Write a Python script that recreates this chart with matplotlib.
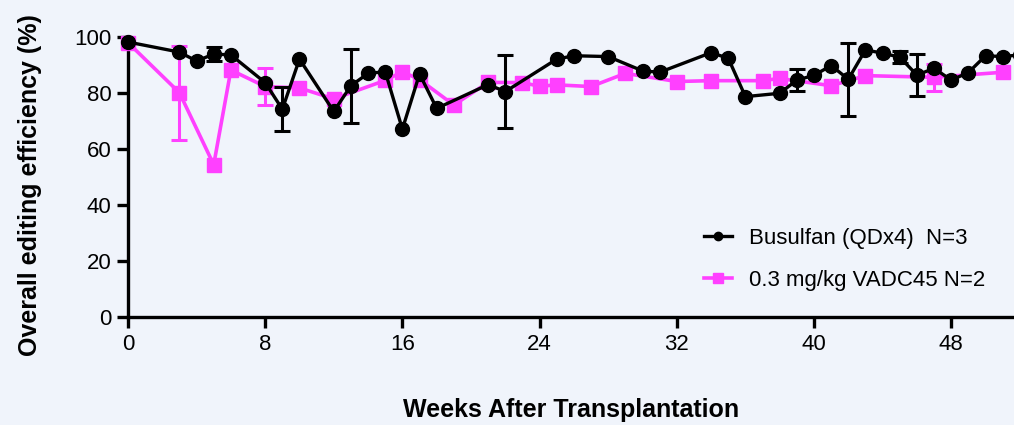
import matplotlib
matplotlib.use("Agg")
import matplotlib.pyplot as plt
import numpy as np

# Busulfan (QDx4) N=3
bus_weeks = [0, 3, 4, 5, 6, 8, 9, 10, 12, 13, 14, 15, 16, 17, 18, 21, 22, 25, 26, 28,
             30, 31, 34, 35, 36, 38, 39, 40, 41, 42, 43, 44, 45, 46, 47, 48, 49, 50, 51, 52]
bus_vals = [98.2, 94.6, 91.4, 93.9, 93.6, 83.7, 74.2, 92.1, 73.4, 82.6, 87.0, 87.6, 67.1, 86.8, 74.5,
            83.0, 80.5, 92.1, 93.3, 93.0, 87.9, 87.4, 94.4, 92.4, 78.7, 79.9, 84.6, 86.3, 89.8, 84.9,
            95.4, 94.2, 92.8, 86.4, 88.8, 84.6, 87.3, 93.3, 93.0, 93.6]
bus_err = [0, 0, 0, 2.5, 0, 0, 7.8, 0, 0, 13.2, 0, 0, 0, 0, 0,
           0, 13.0, 0, 0, 0, 0, 0, 0, 0, 0, 0, 3.9, 0, 0, 13.1,
           0, 0, 2.2, 7.4, 0, 0, 0, 0, 0, 0]

# 0.3 mg/kg VADC45 N=2
vadc_weeks = [0, 3, 5, 6, 8, 10, 12, 15, 16, 17, 19, 21, 23, 24, 25, 27, 29, 32, 34,
              37, 38, 41, 43, 47, 51]
vadc_vals = [98.0, 80.1, 54.4, 88.2, 82.3, 81.8, 77.9, 84.5, 87.6, 84.8, 75.7, 83.8, 83.7, 82.4,
             82.9, 82.3, 87.0, 84.1, 84.4, 84.4, 85.2, 82.6, 86.2, 85.6, 87.4]
vadc_err = [0, 16.8, 0, 0, 6.6, 0, 0, 0, 0, 0, 0, 0, 0, 0,
            0, 0, 0, 0, 0, 0, 0, 0, 0, 4.8, 0]

xticks = [0, 8, 16, 24, 32, 40, 48]
yticks = [0, 20, 40, 60, 80, 100]

bg = "#F0F4FB"
pink = "#FF40FF"

plt.rcParams['font.family'] = ['Liberation Sans', 'DejaVu Sans']

fig = plt.figure(figsize=(10.14, 4.25), dpi=100, facecolor=bg)
ax = fig.add_axes([0.1262, 0.254, 1 - 0.1262, 0.913 - 0.254])
ax.set_facecolor(bg)

ve = np.array(vadc_err, dtype=float)
be = np.array(bus_err, dtype=float)

vidx = ve > 0
ax.errorbar(np.array(vadc_weeks)[vidx], np.array(vadc_vals)[vidx], yerr=ve[vidx], fmt='none',
            ecolor=pink, elinewidth=2.2, capsize=6, capthick=2.2, zorder=2, clip_on=False)
ax.plot(vadc_weeks, vadc_vals, color=pink, lw=2.6, marker='s', ms=9.5,
        label='0.3 mg/kg VADC45 N=2', zorder=3, clip_on=False)

bidx = be > 0
ax.errorbar(np.array(bus_weeks)[bidx], np.array(bus_vals)[bidx], yerr=be[bidx], fmt='none',
            ecolor='black', elinewidth=2.2, capsize=6, capthick=2.2, zorder=4, clip_on=False)
ax.plot(bus_weeks, bus_vals, color='black', lw=2.4, marker='o', ms=10,
        label='Busulfan (QDx4)  N=3', zorder=5, clip_on=False)

ax.set_xlim(0, 51.66)
ax.set_ylim(0, 100)
ax.set_xticks(xticks)
ax.set_yticks(yticks)
for s in ['top', 'right']:
    ax.spines[s].set_visible(False)
for s in ['left', 'bottom']:
    ax.spines[s].set_linewidth(2.4)
ax.tick_params(axis='both', direction='out', length=8, width=2.4, labelsize=16, pad=4)

fig.text(571 / 1014, 1 - 410 / 425, 'Weeks After Transplantation', fontsize=18,
         fontweight='bold', ha='center', va='center')
fig.text(30 / 1014, 1 - 185 / 425, 'Overall editing efficiency (%)', fontsize=18,
         fontweight='bold', ha='center', va='center', rotation=90)

handles, labels = ax.get_legend_handles_labels()
leg = ax.legend(handles[::-1], labels[::-1], loc='upper left', bbox_to_anchor=(0.627, 0.39),
                frameon=False, fontsize=16, markerscale=0.6, handlelength=1.3,
                handletextpad=0.75, labelspacing=0.95)
leg.legend_handles[1].set_markersize(7.5)

fig.savefig('out.png', dpi=100, facecolor=bg)
